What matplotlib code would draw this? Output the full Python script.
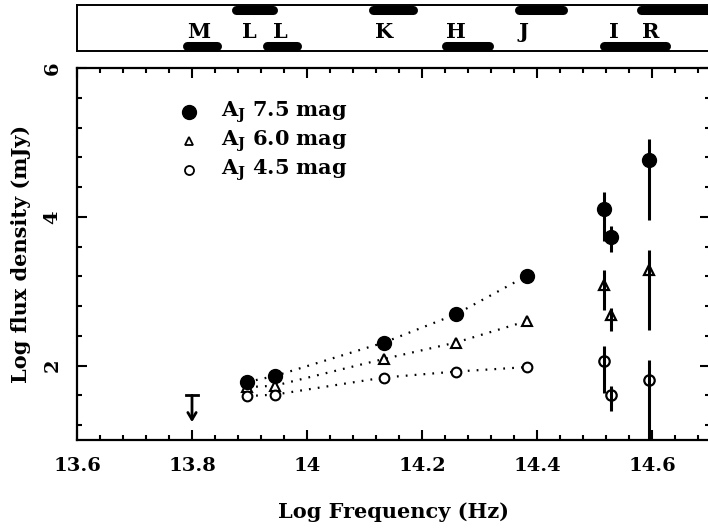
import matplotlib
matplotlib.use("Agg")
import matplotlib.pyplot as plt
from matplotlib.ticker import MultipleLocator

plt.rcParams["font.family"] = ["DejaVu Serif"]
plt.rcParams["font.weight"] = "bold"
plt.rcParams["axes.labelweight"] = "bold"
plt.rcParams["mathtext.fontset"] = "dejavuserif"

# Near-infrared photometry joined by dotted lines
ir_freq = [13.896, 13.944, 14.134, 14.259, 14.383]
ir_75 = [1.78, 1.86, 2.31, 2.69, 3.21]
ir_60 = [1.71, 1.73, 2.09, 2.31, 2.60]
ir_45 = [1.59, 1.61, 1.84, 1.92, 1.98]

# Optical points with asymmetric errors
opt_freq = [14.517, 14.529, 14.594]
opt_75 = [4.10, 3.73, 4.77]
opt_75_lo = [0.43, 0.20, 0.81]
opt_75_hi = [0.23, 0.15, 0.27]
opt_60 = [3.08, 2.68, 3.29]
opt_60_lo = [0.33, 0.22, 0.81]
opt_60_hi = [0.21, 0.10, 0.27]
opt_45 = [2.06, 1.60, 1.80]
opt_45_lo = [0.43, 0.21, 0.80]
opt_45_hi = [0.20, 0.12, 0.28]

# Upper limit in the M band
lim_freq = 13.80
lim_top = 1.60
lim_tip = 1.24

# Filter passbands (log frequency), drawn along the top or bottom edge of the strip
band_names = ["M", "L", "L", "K", "H", "J", "I", "R"]
band_lo = [13.786, 13.870, 13.925, 14.108, 14.235, 14.362, 14.510, 14.574]
band_hi = [13.849, 13.947, 13.988, 14.190, 14.322, 14.452, 14.631, 14.720]
band_edge = [0, 1, 0, 1, 0, 1, 0, 1]
band_label_x = [13.812, 13.899, 13.953, 14.134, 14.259, 14.377, 14.534, 14.597]

legend_labels = [r"$\mathbf{A}_{\mathbf{J}}$ 7.5 mag",
                 r"$\mathbf{A}_{\mathbf{J}}$ 6.0 mag",
                 r"$\mathbf{A}_{\mathbf{J}}$ 4.5 mag"]

fig = plt.figure(figsize=(7.08, 5.28), dpi=100)
W, H = 708.0, 528.0
left = 77 / W
right = 709.5 / W
ax = fig.add_axes([left, 1 - 440 / H, right - left, (440 - 68) / H])
axb = fig.add_axes([left, 1 - 51 / H, right - left, (51 - 5) / H])

dot = (0, (0.8, 3.2))
ax.plot(ir_freq, ir_75, linestyle=dot, color="black", lw=1.6, zorder=1)
ax.plot(ir_freq, ir_60, linestyle=dot, color="black", lw=1.6, zorder=1)
ax.plot(ir_freq, ir_45, linestyle=dot, color="black", lw=1.6, zorder=1)

ax.plot(ir_freq, ir_75, "o", color="black", ms=10, zorder=3)
ax.plot(ir_freq, ir_60, "^", mfc="white", mec="black", mew=1.5, ms=6.5, zorder=2)
ax.plot(ir_freq, ir_45, "o", mfc="white", mec="black", mew=1.5, ms=7, zorder=2)

ax.errorbar(opt_freq, opt_75, yerr=[opt_75_lo, opt_75_hi], fmt="o", color="black",
            ms=10, elinewidth=2.2, capsize=0, zorder=3)
ax.errorbar(opt_freq, opt_60, yerr=[opt_60_lo, opt_60_hi], fmt="^", mfc="none",
            mec="black", mew=1.6, ms=7.5, ecolor="black", elinewidth=2.2, capsize=0, zorder=3)
ax.errorbar(opt_freq, opt_45, yerr=[opt_45_lo, opt_45_hi], fmt="o", mfc="none",
            mec="black", mew=1.6, ms=7.5, ecolor="black", elinewidth=2.2, capsize=0, zorder=3)

# Upper limit: cap plus downward arrow
ax.plot([lim_freq - 0.011, lim_freq + 0.011], [lim_top, lim_top], color="black", lw=2)
ax.annotate("", xy=(lim_freq, lim_tip), xytext=(lim_freq, lim_top),
            arrowprops=dict(arrowstyle="->,head_width=0.3,head_length=0.5", lw=2, color="black",
                            shrinkA=0, shrinkB=0))

ax.set_xlim(13.6, 14.7)
ax.set_ylim(1, 6)
ax.xaxis.set_major_locator(MultipleLocator(0.2))
ax.xaxis.set_minor_locator(MultipleLocator(0.04))
ax.yaxis.set_major_locator(MultipleLocator(2))
ax.yaxis.set_minor_locator(MultipleLocator(0.4))
ax.set_xticks([13.6, 13.8, 14.0, 14.2, 14.4, 14.6])
ax.set_xticklabels(["13.6", "13.8", "14", "14.2", "14.4", "14.6"])
ax.tick_params(which="both", direction="in", top=True, right=True, width=1.5)
ax.tick_params(which="major", length=7, labelsize=14)
ax.tick_params(which="minor", length=3.5)
ax.tick_params(axis="x", which="major", pad=12)
ax.tick_params(axis="y", which="major", pad=11)
for lab in ax.get_yticklabels():
    lab.set_rotation(90)
    lab.set_va("center")
for s in ax.spines.values():
    s.set_linewidth(1.6)

ax.set_xlabel("Log Frequency (Hz)", fontsize=15, labelpad=20)
ax.set_ylabel("Log flux density (mJy)", fontsize=15, labelpad=9)

# Legend drawn by hand
leg_y = [0.882, 0.804, 0.725]
ax.plot([0.1775], [leg_y[0]], "o", color="black", ms=10, transform=ax.transAxes)
ax.plot([0.1775], [leg_y[1]], "^", mfc="white", mec="black", mew=1.3, ms=6, transform=ax.transAxes)
ax.plot([0.1775], [leg_y[2]], "o", mfc="white", mec="black", mew=1.3, ms=6.5, transform=ax.transAxes)
for yy, lab in zip(leg_y, legend_labels):
    ax.text(0.228, yy, lab, transform=ax.transAxes, fontsize=15, va="center", ha="left")

# Filter strip
axb.set_xlim(13.6, 14.7)
axb.set_ylim(0, 1)
axb.set_xticks([])
axb.set_yticks([])
for s in axb.spines.values():
    s.set_linewidth(1.4)
for lo, hi, edge in zip(band_lo, band_hi, band_edge):
    yb = 0.89 if edge == 1 else 0.11
    axb.plot([lo + 0.006, hi - 0.006], [yb, yb], color="black",
             lw=6.5, solid_capstyle="round", clip_on=False)
for name, xl in zip(band_names, band_label_x):
    axb.text(xl, 0.42, name, fontsize=15, ha="center", va="center")

fig.savefig("out.png", dpi=100)
